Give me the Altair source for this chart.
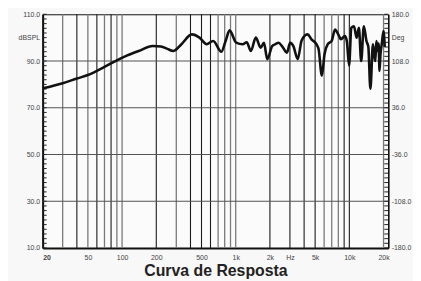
import altair as alt
import pandas as pd

# Frequency response curve (Hz, dB SPL)
freq = [20, 30, 40, 50, 70, 90, 110, 140, 186, 220, 250, 282, 330, 412, 480,
        555, 634, 748, 820, 883, 1009, 1153, 1250, 1360, 1502, 1659, 1772, 1896,
        2094, 2236, 2388, 2555, 2822, 3013, 3218, 3512, 3804, 4286, 4642,
        5127, 5368, 5733, 6048, 6458, 6996, 7482, 7990, 8432, 9130, 9500,
        9948, 10414, 10988, 11594, 12140, 12710, 13414, 14150, 14700, 15320,
        16134, 16500, 16920, 17300, 17714, 18100, 18434, 18800, 19294, 19990,
        20500]
spl = [78.3, 80.5, 82.5, 84.0, 87.5, 90.3, 92.3, 94.3, 96.4, 96.2, 95.2, 94.3,
       97.0, 101.4, 100.0, 97.2, 98.6, 94.0, 99.0, 103.1, 97.9, 97.2, 98.0,
       94.3, 100.0, 95.7, 97.8, 90.8, 96.4, 97.2, 97.8, 96.4, 93.6, 97.8, 96.4,
       90.8, 98.8, 101.4, 99.3, 97.2, 95.0, 83.7, 92.9, 97.2, 98.6, 103.5,
       101.4, 99.3, 100.7, 98.6, 88.0, 104.2, 104.9, 100.0, 104.2, 90.0,
       104.9, 98.6, 96.0, 78.1, 97.2, 93.0, 90.0, 98.5, 94.3, 97.5, 85.8,
       93.0, 97.2, 102.8, 96.0]

# grid lines
grid_dark = [40, 60, 80, 200, 400, 500, 600, 2000, 3000, 4000, 5000, 9000, 10000]
grid_light = [30, 50, 70, 90, 100, 300, 700, 800, 900, 1000, 6000, 7000, 8000, 20000]
grid_h = [30, 50, 70, 90]
minor_ticks = list(range(10, 111, 2))

x_labels = [20, 50, 100, 200, 500, 1000, 2000, 3000, 5000, 10000, 20000]
y_labels = [10, 30, 50, 70, 90, 100, 110]

FONT = "Liberation Sans"
xscale = alt.Scale(type="log", domain=[20, 22000], nice=False)
yscale = alt.Scale(domain=[10, 110], nice=False, zero=False)

curve_df = pd.DataFrame({"freq": freq, "spl": spl})
gd_df = pd.DataFrame({"freq": grid_dark})
gl_df = pd.DataFrame({"freq": grid_light})
gh_df = pd.DataFrame({"spl": grid_h})
mt_df = pd.DataFrame({"spl": minor_ticks})

x_axis = alt.Axis(
    values=x_labels,
    labelExpr="datum.value == 3000 ? 'Hz' : (datum.value >= 1000 ? (datum.value/1000) + 'k' : '' + datum.value)",
    grid=False, ticks=False, domainWidth=2, domainColor="#111",
    labelFont=FONT, labelFontSize=7, labelColor="#444", labelPadding=6,
    labelFontWeight={"condition": {"test": "datum.value == 20", "value": "bold"}, "value": "normal"},
    title="Curva de Resposta", titleFont=FONT, titleFontSize=16,
    titleFontWeight="bold", titleColor="#222", titlePadding=2,
)
y_axis = alt.Axis(
    values=y_labels,
    labelExpr="datum.value == 100 ? 'dBSPL' : format(datum.value, '.1f')",
    grid=False, ticks=False, domainWidth=2, domainColor="#111",
    labelFont=FONT, labelFontSize=7, labelColor="#444", labelPadding=3,
    title=None)

X = alt.X("freq:Q", scale=xscale, axis=x_axis)
Y = alt.Y("spl:Q", scale=yscale, axis=y_axis)

# anchor layer carrying both axes
anchor = alt.Chart(curve_df).mark_line(opacity=0).encode(x=X, y=Y)

vdark = alt.Chart(gd_df).mark_rule(color="#1a1a1a", strokeWidth=1.1).encode(x=X)
vlight = alt.Chart(gl_df).mark_rule(color="#7a7a7a", strokeWidth=1.3).encode(x=X)
hgrid = alt.Chart(gh_df).mark_rule(color="#555", strokeWidth=1.2).encode(y=Y)
lticks = alt.Chart(mt_df).mark_rule(color="#222", strokeWidth=1).encode(
    y=Y, x=alt.value(0), x2=alt.value(4))

line = alt.Chart(curve_df).mark_line(
    color="#111", strokeWidth=2.6, interpolate="monotone").encode(x=X, y=Y)

left = alt.layer(anchor, vlight, vdark, hgrid, lticks, line)

rticks = alt.Chart(mt_df).mark_rule(color="#222", strokeWidth=1).encode(
    y=alt.Y("spl:Q", scale=yscale, axis=alt.Axis(
        orient="right", values=y_labels,
        labelExpr="datum.value == 100 ? 'Deg' : (((datum.value - 10) * 3.6 - 180) < 0 ? '-' : '') + format(abs((datum.value - 10) * 3.6 - 180), '.1f')",
        grid=False, ticks=False, domainWidth=1.5, domainColor="#111",
        labelFont=FONT, labelFontSize=7, labelColor="#444", labelPadding=3,
        title=None)),
    x=alt.value(345), x2=alt.value(349))

chart = alt.layer(left, rticks).resolve_scale(y="independent").properties(
    width=349, height=236,
    autosize=alt.AutoSizeParams(type="none"),
    padding={"left": 35, "top": 5, "right": 25, "bottom": 32},
    background="#f8f8f8",
).configure_view(stroke="#111", strokeWidth=1, fill="#fbfbfb")

chart.save("out.html", embed_options={"renderer": "svg", "actions": False})
